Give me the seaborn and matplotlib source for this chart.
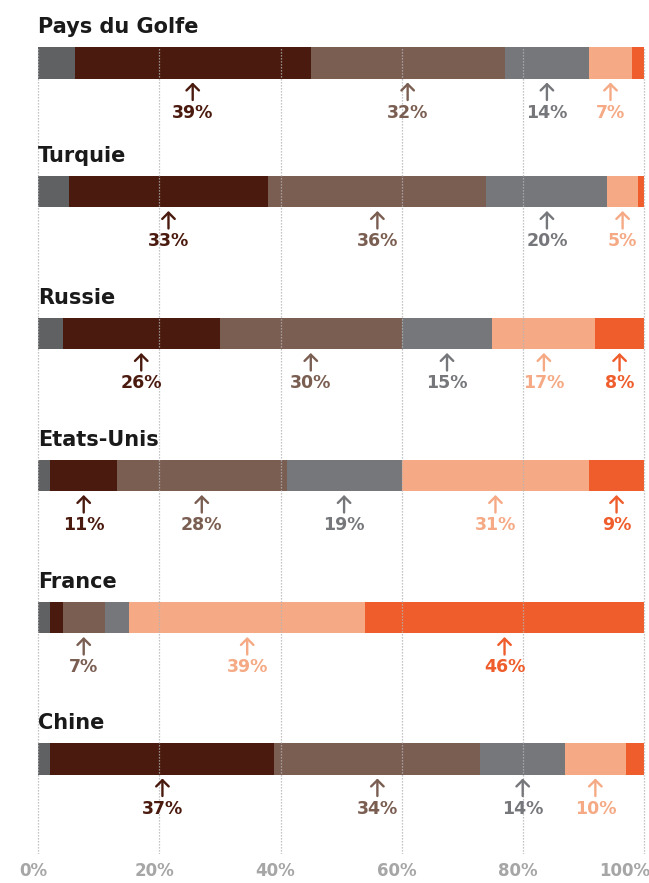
import numpy as np
import pandas as pd
import matplotlib
matplotlib.use("Agg")
import matplotlib.pyplot as plt
from matplotlib.transforms import ScaledTranslation
import seaborn as sns

# ---- data -------------------------------------------------------------
countries = ["Pays du Golfe", "Turquie", "Russie", "Etats-Unis", "France", "Chine"]
segments = ["NSP", "A", "B", "C", "D", "E"]

golfe = [6, 39, 32, 14, 7, 2]
turquie = [5, 33, 36, 20, 5, 1]
russie = [4, 26, 30, 15, 17, 8]
etats_unis = [2, 11, 28, 19, 31, 9]
france = [2, 2, 7, 4, 39, 46]
chine = [2, 37, 34, 14, 10, 3]

tick_values = [0, 20, 40, 60, 80, 100]
tick_labels = ["0%", "20%", "40%", "60%", "80%", "100%"]

# ---- layout / style ---------------------------------------------------
W, H, DPI = 649, 883, 100
row_centers = [63, 191.5, 333.5, 475.5, 617.5, 759]   # vertical position of each bar (px)
bar_h = 31.5
grid_top, grid_bottom = 47, 854
x0_px, x100_px = 38.3, 643.8

colors = {
    "NSP": "#606163",
    "A": "#4a1a0e",
    "B": "#7a5e52",
    "C": "#75777b",
    "D": "#f5aa85",
    "E": "#ef5d2c",
}

sns.set_theme(style="white")
plt.rcParams["font.family"] = ["DejaVu Sans"]

rows = [golfe, turquie, russie, etats_unis, france, chine]
records = []
for country, yc, vals in zip(countries, row_centers, rows):
    cum = np.cumsum(vals)
    for seg, v, c in zip(segments, vals, cum):
        records.append({"pays": country, "segment": seg, "valeur": v,
                        "fin": c, "debut": c - v, "y": yc})
df = pd.DataFrame(records)

fig = plt.figure(figsize=(W / DPI, H / DPI), dpi=DPI)
ax = fig.add_axes([0, 1 - grid_bottom / H, 1, (grid_bottom - grid_top) / H])

min_gap = np.min(np.diff(sorted(row_centers)))
# stacked bars: longest cumulative drawn first, shorter ones on top
sns.barplot(data=df, x="fin", y="y", hue="segment",
            hue_order=segments[::-1], palette=colors, orient="h",
            native_scale=True, dodge=False, width=bar_h / min_gap,
            errorbar=None, saturation=1, linewidth=0, legend=False, ax=ax)

px_per_pct = (x100_px - x0_px) / 100
ax.set_xlim(-x0_px / px_per_pct, (W - x0_px) / px_per_pct)
ax.set_ylim(grid_bottom, grid_top)

for s in ax.spines.values():
    s.set_visible(False)
ax.set_xlabel("")
ax.set_ylabel("")
ax.set_yticks([])
ax.set_xticks(tick_values)
ax.set_xticklabels(tick_labels, fontweight="bold")
ax.tick_params(axis="x", length=0, pad=5.5, labelsize=12, labelcolor="#a6a6a6")
shift = ScaledTranslation(-5 / DPI, 0, fig.dpi_scale_trans)
labs = ax.get_xticklabels()
for lab in labs:
    lab.set_transform(lab.get_transform() + shift)
labs[-1].set_transform(labs[-1].get_transform() + ScaledTranslation(-14 / DPI, 0, fig.dpi_scale_trans))

ax.grid(axis="x", color="#b3b3b3", linestyle=(0, (1, 1.4)), linewidth=0.9)
ax.grid(axis="y", visible=False)
ax.set_axisbelow(False)

# titles, arrows and value labels
for country, yc in zip(countries, row_centers):
    ax.text(0, yc - 30, country, ha="left", va="baseline", fontsize=15,
            fontweight="bold", color="#1a1a1a", clip_on=False)
    sub = df[df["pays"] == country]
    for _, r in sub.iterrows():
        if r["segment"] == "NSP" or r["valeur"] < 5:
            continue
        xm = r["debut"] + r["valeur"] / 2
        col = colors[r["segment"]]
        ax.annotate("", xy=(xm, yc + 19.5), xytext=(xm, yc + 37),
                    arrowprops=dict(arrowstyle="->,head_length=0.45,head_width=0.45",
                                    lw=1.7, color=col, shrinkA=0, shrinkB=0,
                                    mutation_scale=10),
                    annotation_clip=False)
        ax.text(xm, yc + 54.5, f"{int(r['valeur'])}%", ha="center", va="baseline",
                fontsize=12.5, fontweight="bold", color=col, clip_on=False)

fig.savefig("out.png", dpi=DPI)
